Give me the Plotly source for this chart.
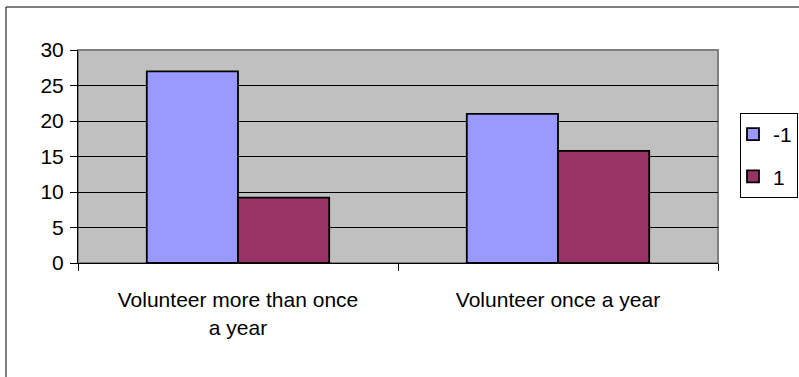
import plotly.graph_objects as go

categories = ["Volunteer more than once a year", "Volunteer once a year"]
tick_labels = ["Volunteer more than once<br>a year", "Volunteer once a year"]
series_names = ["-1", "1"]
values_neg1 = [27, 21]
values_pos1 = [9.2, 15.8]
colors = ["#9999FF", "#993366"]
y_ticks = [0, 5, 10, 15, 20, 25, 30]

W, H = 799, 377
L, R, T, B = 78, 81, 50, 114
pw, ph = W - L - R, H - T - B

fig = go.Figure()
for name, vals, col in zip(series_names, [values_neg1, values_pos1], colors):
    fig.add_trace(go.Bar(
        x=categories, y=vals, name=name, legendgroup=name,
        marker=dict(color=col, line=dict(color="black", width=1.8)),
    ))

font = dict(family="Liberation Sans, Arial, sans-serif", size=21, color="black")

def px_x(px):
    return (px - L) / pw

def px_y(py):
    return (H - B - py) / ph

fig.update_layout(
    width=W, height=H,
    margin=dict(l=L, r=R, t=T, b=B, pad=0, autoexpand=False),
    paper_bgcolor="white", plot_bgcolor="#C0C0C0",
    barmode="group", bargap=0.43, bargroupgap=0,
    font=font,
    showlegend=True,
    legend=dict(
        x=px_x(740), y=px_y(113), xanchor="left", yanchor="top",
        bordercolor="black", borderwidth=1, bgcolor="white",
        traceorder="grouped", tracegroupgap=12, indentation=-8,
        font=dict(family="Liberation Sans, Arial, sans-serif", size=21, color="black"),
        itemwidth=30, entrywidth=80,
    ),
    xaxis=dict(
        tickmode="array", tickvals=categories, ticktext=tick_labels,
        showline=True, linecolor="black", linewidth=1,
        ticks="outside", tickson="boundaries", ticklen=7, tickcolor="black",
        showgrid=False, zeroline=False, tickfont=font, ticklabelstandoff=18,
    ),
    yaxis=dict(
        range=[0, 30], tickvals=y_ticks,
        showline=True, linecolor="black", linewidth=1,
        ticks="outside", ticklen=7, tickcolor="black",
        showgrid=True, gridcolor="black", gridwidth=1,
        zeroline=False, tickfont=font, ticklabelstandoff=2,
    ),
    shapes=[
        dict(type="rect", xref="paper", yref="paper", x0=0, x1=1, y0=0, y1=1,
             line=dict(color="#808080", width=2), layer="below"),
        dict(type="rect", xref="paper", yref="paper",
             x0=px_x(6), x1=px_x(805), y0=px_y(385), y1=px_y(7),
             line=dict(color="black", width=1)),
    ],
)

fig.write_html("out.html")
